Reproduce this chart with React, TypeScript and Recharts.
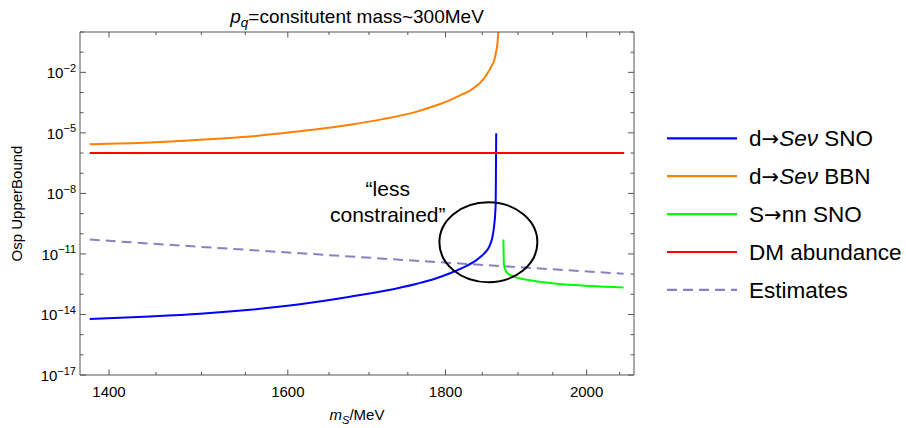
import React from 'react';
import { LineChart, Line, XAxis, YAxis, ReferenceDot, Legend } from 'recharts';

const FONT = '"Liberation Sans", Arial, Helvetica, sans-serif';
const FRAME = '#555555';

// ---- tick labels ----
const xMajorTicks = [1400, 1600, 1800, 2000];
const xAllTicks = [1400, 1450, 1500, 1550, 1600, 1650, 1700, 1750, 1800, 1850, 1900, 1950, 2000, 2050];
const yTickExponents = [-17, -16, -15, -14, -13, -12, -11, -10, -9, -8, -7, -6, -5, -4, -3, -2, -1, 0];
const yLabelExponents = [-17, -14, -11, -8, -5, -2];
const yTicks = yTickExponents.map((e) => Math.pow(10, e));

// ---- series: d -> S e nu (SNO) ----
const snoDecayMass = [1380, 1443.5, 1498.5, 1555.5, 1614.6, 1676.1, 1720.4, 1762, 1785.9, 1806, 1826.4, 1842.8, 1852.5, 1859.9, 1864.0, 1866.4, 1868.1, 1868.7, 1869.0, 1869.4];
const snoDecayValue = [5.9e-15, 7.9e-15, 1.08e-14, 1.71e-14, 3.21e-14, 7.57e-14, 1.5e-13, 3.35e-13, 5.94e-13, 1.11e-12, 2.34e-12, 5.24e-12, 1.04e-11, 2.4e-11, 6.5e-11, 2.29e-10, 1.14e-9, 3.45e-9, 1e-7, 9.6e-6];

// ---- series: d -> S e nu (BBN) ----
const bbnDecayMass = [1380, 1443.5, 1498.5, 1555.5, 1614.6, 1635.3, 1676.1, 1718, 1760.8, 1785.9, 1806, 1819.6, 1833.2, 1842.8, 1851.6, 1858, 1863.2, 1866.8, 1869.2, 1871.0, 1872.6];
const bbnDecayValue = [2.74e-6, 3.33e-6, 4.53e-6, 6.6e-6, 1.21e-5, 1.52e-5, 2.55e-5, 4.8e-5, 1.1e-4, 2.2e-4, 4.2e-4, 7.3e-4, 1.25e-3, 2.2e-3, 4.67e-3, 9.84e-3, 0.0214, 0.0411, 0.099, 0.257, 1.3];

// ---- series: S -> nn (SNO) ----
const snnMass = [1879.4, 1879.8, 1880.3, 1882.0, 1884.2, 1893.5, 1917, 1946, 2005, 2056];
const snnValue = [5.2e-11, 9.3e-12, 2.95e-12, 1.7e-12, 1.2e-12, 7.7e-13, 5.0e-13, 3.63e-13, 2.58e-13, 2.19e-13];

// ---- series: DM abundance ----
const dmMass = [1380, 2057];
const dmValue = [1e-6, 1e-6];

// ---- series: Estimates ----
const estMass = [1380, 1443.5, 1806, 2056];
const estValue = [5.2e-11, 3.27e-11, 3.58e-12, 1.05e-12];

const zip = (ms: number[], vs: number[]) => ms.map((m, i) => ({ m, v: vs[i] }));

const series = [
  { key: 'sno', name: 'd→Seν SNO', color: '#0000ff', dash: undefined as string | undefined, data: zip(snoDecayMass, snoDecayValue), curve: 'monotone' },
  { key: 'bbn', name: 'd→Seν BBN', color: '#ff8000', dash: undefined, data: zip(bbnDecayMass, bbnDecayValue), curve: 'monotone' },
  { key: 'snn', name: 'S→nn SNO', color: '#00ff00', dash: undefined, data: zip(snnMass, snnValue), curve: 'monotone' },
  { key: 'dm', name: 'DM abundance', color: '#ff0000', dash: undefined, data: zip(dmMass, dmValue), curve: 'linear' },
  { key: 'est', name: 'Estimates', color: '#8a80c0', dash: '10 6', data: zip(estMass, estValue), curve: 'linear' },
];

// annotation anchors (data coordinates)
const circleCenter = { m: 1858.5, v: 3.8e-11 };
const noteAnchor = { m: 1724, v: 1.6e-9 };

const renderName = (name: string) => {
  const a = name.indexOf('→');
  const before = name.slice(0, a);
  const after = name.slice(a + 1);
  const idx = after.indexOf('Seν');
  return (
    <>
      <tspan>{before}</tspan>
      <tspan fontFamily='"DejaVu Sans", sans-serif' fontSize={21}>→</tspan>
      {idx === 0 ? (
        <>
          <tspan fontStyle="italic">Seν</tspan>
          <tspan>{after.slice(3)}</tspan>
        </>
      ) : (
        <tspan>{after}</tspan>
      )}
    </>
  );
};

const BottomTick = (props: any) => {
  const { x, y, payload } = props;
  const v = payload.value;
  const major = xMajorTicks.includes(v);
  return (
    <g>
      <line x1={x} x2={x} y1={y} y2={y - (major ? 5.5 : 3)} stroke={FRAME} strokeWidth={1} />
      {major && (
        <text x={x} y={y + 22} textAnchor="middle" fontSize={15} fontFamily={FONT} fill="#000">
          {v}
        </text>
      )}
    </g>
  );
};

const TopTick = (props: any) => {
  const { x, y, payload } = props;
  const major = xMajorTicks.includes(payload.value);
  return <line x1={x} x2={x} y1={y} y2={y + (major ? 5.5 : 3)} stroke={FRAME} strokeWidth={1} />;
};

const LeftTick = (props: any) => {
  const { x, y, payload } = props;
  const e = Math.round(Math.log10(payload.value));
  const major = yLabelExponents.includes(e);
  return (
    <g>
      <line x1={x} x2={x + (major ? 6 : 3.5)} y1={y} y2={y} stroke={FRAME} strokeWidth={1} />
      {major && (
        <text x={x - 4} y={y + 6} textAnchor="end" fontSize={15} fontFamily={FONT} fill="#000">
          <tspan>10</tspan>
          <tspan dy={-6.5} fontSize={11}>{'−' + String(-e)}</tspan>
        </text>
      )}
    </g>
  );
};

const RightTick = (props: any) => {
  const { x, y, payload } = props;
  const e = Math.round(Math.log10(payload.value));
  const major = yLabelExponents.includes(e);
  return <line x1={x} x2={x - (major ? 6 : 3.5)} y1={y} y2={y} stroke={FRAME} strokeWidth={1} />;
};

const TitleLabel = (props: any) => {
  const vb = props.viewBox || { x: 80, y: 0, width: 554, height: 32 };
  return (
    <text x={vb.x + vb.width / 2} y={23} textAnchor="middle" fontSize={19} fontFamily={FONT} fill="#000">
      <tspan fontStyle="italic">p</tspan>
      <tspan fontStyle="italic" fontSize={13.5} dy={4}>q</tspan>
      <tspan dy={-4}>=consitutent mass~300MeV</tspan>
    </text>
  );
};

const XTitle = (props: any) => {
  const vb = props.viewBox || { x: 80, y: 375, width: 554, height: 53 };
  return (
    <text x={vb.x + vb.width / 2} y={vb.y + 45} textAnchor="middle" fontSize={15} fontFamily={FONT} fill="#000">
      <tspan fontStyle="italic">m</tspan>
      <tspan fontStyle="italic" fontSize={11} dy={4}>S</tspan>
      <tspan dy={-4}>/MeV</tspan>
    </text>
  );
};

const YTitle = (props: any) => {
  const vb = props.viewBox || { x: 0, y: 32, width: 80, height: 343 };
  const cx = 22;
  const cy = vb.y + vb.height / 2;
  return (
    <text x={cx} y={cy} transform={`rotate(-90 ${cx} ${cy})`} textAnchor="middle" fontSize={15} fontFamily={FONT} fill="#000">
      Osp UpperBound
    </text>
  );
};

const LegendContent = () => (
  <svg width={246} height={200} style={{ display: 'block', overflow: 'visible' }}>
    {series.map((s, i) => {
      const cy = 20.3 + i * 37.9;
      return (
        <g key={s.key}>
          <line x1={7} x2={77} y1={cy} y2={cy} stroke={s.color} strokeWidth={2.2} strokeDasharray={s.dash} />
          <text x={89} y={cy + 8} fontSize={22.5} fontFamily={FONT} fill="#000">
            {s.name.includes('→') ? renderName(s.name) : s.name}
          </text>
        </g>
      );
    })}
  </svg>
);

const EllipseShape = (props: any) => (
  <ellipse cx={props.cx} cy={props.cy} rx={49} ry={40} fill="none" stroke="#000" strokeWidth={2} />
);

const NoteShape = (props: any) => (
  <text x={props.cx} y={props.cy} textAnchor="middle" fontSize={21} fontFamily={FONT} fill="#000">
    <tspan x={props.cx} dy={-13}>“less</tspan>
    <tspan x={props.cx} dy={26}>constrained”</tspan>
  </text>
);

export default function App() {
  return (
    <div style={{ position: 'absolute', left: 0, top: 0, width: 906, height: 428, background: '#fff' }}>
      <LineChart width={906} height={428} margin={{ top: 0, right: 270, bottom: 0, left: 0 }}>
        <XAxis
          xAxisId="b"
          dataKey="m"
          type="number"
          scale="log"
          domain={[1370, 2072]}
          allowDataOverflow
          ticks={xAllTicks}
          interval={0}
          tickSize={0}
          tickMargin={0}
          tickLine={false}
          tick={BottomTick}
          height={53}
          orientation="bottom"
          axisLine={{ stroke: FRAME, strokeWidth: 1 }}
          label={XTitle}
        />
        <XAxis
          xAxisId="t"
          dataKey="m"
          type="number"
          scale="log"
          domain={[1370, 2072]}
          allowDataOverflow
          ticks={xAllTicks}
          interval={0}
          tickSize={0}
          tickMargin={0}
          tickLine={false}
          tick={TopTick}
          height={32}
          orientation="top"
          axisLine={{ stroke: FRAME, strokeWidth: 1 }}
          label={TitleLabel}
        />
        <YAxis
          yAxisId="l"
          type="number"
          scale="log"
          domain={[1e-17, 1]}
          allowDataOverflow
          ticks={yTicks}
          interval={0}
          tickSize={0}
          tickMargin={0}
          tickLine={false}
          tick={LeftTick}
          width={80}
          orientation="left"
          axisLine={{ stroke: FRAME, strokeWidth: 1 }}
          label={YTitle}
        />
        <YAxis
          yAxisId="r"
          type="number"
          scale="log"
          domain={[1e-17, 1]}
          allowDataOverflow
          ticks={yTicks}
          interval={0}
          tickSize={0}
          tickMargin={0}
          tickLine={false}
          tick={RightTick}
          width={2}
          orientation="right"
          axisLine={{ stroke: FRAME, strokeWidth: 1 }}
        />
        {series.map((s) => (
          <Line
            key={s.key}
            xAxisId="b"
            yAxisId="l"
            data={s.data}
            dataKey="v"
            name={s.name}
            type={s.curve as any}
            stroke={s.color}
            strokeWidth={2}
            strokeDasharray={s.dash}
            dot={false}
            activeDot={false}
            isAnimationActive={false}
          />
        ))}
        <ReferenceDot xAxisId="b" yAxisId="l" x={circleCenter.m} y={circleCenter.v} r={40} shape={EllipseShape} />
        <ReferenceDot xAxisId="b" yAxisId="l" x={noteAnchor.m} y={noteAnchor.v} r={1} shape={NoteShape} />
        <Legend
          layout="horizontal"
          verticalAlign="middle"
          align="center"
          content={LegendContent}
          wrapperStyle={{ position: 'absolute', left: 660, top: 118, width: 246, height: 200 }}
        />
      </LineChart>
    </div>
  );
}
